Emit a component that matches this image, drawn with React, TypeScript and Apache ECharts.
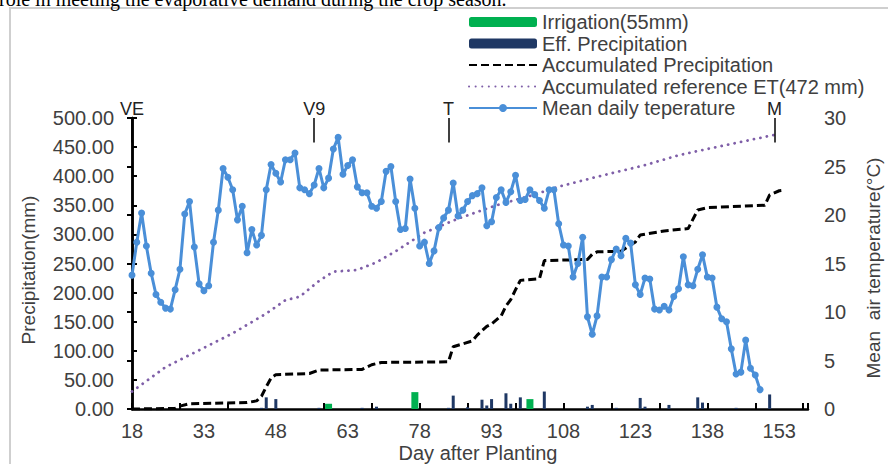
import React, { useEffect, useRef } from 'react';
import * as echarts from 'echarts';

// x values are shifted so the axis starts at 0 (ticks every 15 days from day 18)
const OFF = 18;

const tempFirstDay = 18;
const tempValues = [
  13.8, 17.2, 20.2, 16.8, 14.0, 11.8, 11.0, 10.4, 10.3, 12.3,
  14.4, 20.1, 21.4, 16.7, 12.9, 12.2, 12.7, 17.2, 20.5, 24.8,
  23.9, 22.6, 19.5, 20.9, 16.1, 18.5, 16.9, 17.9, 22.6, 25.2,
  24.3, 23.4, 25.7, 25.7, 26.4, 22.8, 22.6, 22.2, 23.1, 24.8,
  22.8, 23.8, 26.8, 28.0, 24.2, 25.1, 25.7, 22.9, 22.3, 22.3,
  20.9, 20.7, 21.4, 24.5, 25.0, 21.4, 18.5, 18.6, 23.7, 20.7,
  16.8, 17.2, 15.0, 16.3, 18.7, 19.7, 20.5, 23.3, 19.9, 20.5,
  21.4, 22.0, 22.2, 22.8, 18.9, 19.3, 21.8, 22.6, 21.3, 22.4,
  24.1, 21.5, 21.6, 22.6, 22.1, 21.5, 20.7, 22.6, 22.6, 19.1,
  16.9, 16.8, 13.6, 15.0, 17.7, 9.5, 7.7, 9.6, 13.6, 13.6,
  15.4, 16.5, 15.8, 17.6, 17.1, 12.8, 11.8, 13.5, 13.4, 10.3,
  10.2, 10.6, 10.2, 11.6, 12.4, 15.7, 12.8, 12.7, 14.4, 15.9,
  13.6, 13.5, 10.5, 9.3, 9.0, 6.2, 3.6, 3.8, 7.1, 4.2,
  3.5, 2.0,
];

const effPrecipDays = [45, 46, 48, 57, 66, 69, 84, 85, 88, 91, 92, 93, 96, 97, 99, 104, 113, 114, 119, 124, 125, 130, 136, 137, 144, 151];
const effPrecipValues = [2, 20, 17, 2, 2, 4, 2, 23, 3, 16, 6, 17, 27, 9, 20, 30, 4, 7, 2, 19, 4, 7, 20, 11, 2, 25];

const irrigationDays = [59, 77, 101];
const irrigationValues = [9, 29, 17];

const accPrecipDays = [18, 27, 28, 30, 42, 44, 45, 46, 47, 48, 55, 57, 66, 68, 70, 84, 85, 89, 90, 92, 93, 95, 96, 97, 98, 99, 103, 104, 113, 114, 115, 120, 123, 124, 129, 134, 136, 138, 150, 151, 153, 154];
const accPrecipValues = [0, 1, 5, 9, 11, 14, 22, 38, 53, 59, 61, 67, 68, 76, 80, 81, 107, 117, 127, 142, 146, 160, 177, 188, 205, 221, 224, 255, 257, 266, 270, 271, 287, 299, 306, 310, 342, 346, 350, 368, 375, 376];

const etDays = [18, 25, 32, 39, 46, 50, 53, 57, 60, 65, 69, 73, 79, 86, 94, 101, 107, 115, 125, 132, 137, 152];
const etValues = [30, 72, 101, 130, 164, 187, 193, 220, 236, 239, 252, 271, 303, 327, 350, 366, 382, 399, 419, 436, 445, 471];

const stageNames = ['VE', 'V9', 'T', 'M'];
const stageDays = [18, 56, 84, 152];

const seriesNames = [
  'Irrigation(55mm)',
  'Eff. Precipitation',
  'Accumulated Precipitation',
  'Accumulated reference ET(472 mm)',
  'Mean daily teperature',
];

const FONT = '"Liberation Sans", Arial, sans-serif';
const TXT = '#404040';

export default function App() {
  const ref = useRef<HTMLDivElement>(null);
  useEffect(() => {
    document.body.style.margin = '0';
    const chart = echarts.init(ref.current!, null, { renderer: 'svg' });
    const pair = (ds: number[], vs: number[]) => ds.map((d, i) => [d - OFF, vs[i]]);
    const option: any = {
      animation: false,
      backgroundColor: '#ffffff',
      textStyle: { fontFamily: FONT },
      grid: { left: 132, right: 80, top: 118, bottom: 55, containLabel: false },
      legend: {
        data: seriesNames.map((n, i) =>
          i === 2 || i === 3 ? { name: n, itemStyle: { opacity: 0 } } : { name: n }
        ),
        orient: 'vertical',
        left: 463,
        top: 7,
        itemWidth: 68,
        itemHeight: 10,
        itemGap: 1.5,
        textStyle: { fontSize: 20, color: TXT, fontFamily: FONT, lineHeight: 20 },
      },
      xAxis: [
        {
          type: 'value', min: 0, max: 141, interval: 15, position: 'bottom',
          axisLine: { show: true, lineStyle: { color: '#000', width: 2.5 } },
          axisTick: { show: false },
          splitLine: { show: false },
          axisLabel: { formatter: (v: number) => String(v + OFF), showMaxLabel: false, fontSize: 20, lineHeight: 20, color: TXT, margin: 12, fontFamily: FONT },
        },
        {
          type: 'value', min: 0, max: 141, interval: 10, position: 'bottom',
          axisLine: { show: false },
          axisTick: { show: true, inside: true, length: 6, lineStyle: { color: '#000', width: 2 } },
          axisLabel: { show: false },
          splitLine: { show: false },
        },
      ],
      yAxis: [
        {
          type: 'value', min: 0, max: 500, interval: 50,
          axisLine: { show: true, lineStyle: { color: '#000', width: 2.5 } },
          axisTick: { show: true, inside: true, length: 5, lineStyle: { color: '#000', width: 2 } },
          axisLabel: { formatter: (v: number) => v.toFixed(2), fontSize: 20, color: TXT, margin: 18, fontFamily: FONT },
          splitLine: { show: false },
        },
        {
          type: 'value', min: 0, max: 30, interval: 5, position: 'right',
          axisLine: { show: true, lineStyle: { color: '#000', width: 2.5 } },
          axisTick: { show: true, inside: true, length: 5, lineStyle: { color: '#000', width: 2 } },
          axisLabel: { fontSize: 20, color: TXT, margin: 16, fontFamily: FONT },
          splitLine: { show: false },
        },
      ],
      series: [
        {
          name: seriesNames[0], type: 'bar', xAxisIndex: 1, yAxisIndex: 0, barWidth: 7,
          itemStyle: { color: '#00B050' },
          data: pair(irrigationDays, irrigationValues),
        },
        {
          name: seriesNames[1], type: 'bar', xAxisIndex: 0, yAxisIndex: 0, barWidth: 3,
          itemStyle: { color: '#1F3864' },
          data: pair(effPrecipDays, effPrecipValues),
        },
        {
          name: seriesNames[2], type: 'line', xAxisIndex: 0, yAxisIndex: 0, symbol: 'none',
          itemStyle: { color: '#000' },
          lineStyle: { color: '#000', width: 3, type: [8, 4] },
          data: pair(accPrecipDays, accPrecipValues),
          markLine: {
            silent: true,
            symbol: ['none', 'none'],
            lineStyle: { color: '#000', width: 1.5, type: 'solid' },
            label: { show: true, position: 'start', formatter: '{b}', fontSize: 18, color: '#222', distance: 0, fontFamily: FONT },
            data: stageNames.map((n, i) => [
              { name: n, coord: [stageDays[i] - OFF, 500] },
              { coord: [stageDays[i] - OFF, 458] },
            ]),
          },
        },
        {
          name: seriesNames[3], type: 'line', xAxisIndex: 0, yAxisIndex: 0, symbol: 'none',
          itemStyle: { color: '#7F5FA8' },
          lineStyle: { color: '#7F5FA8', width: 2.8, type: [0.1, 6.5], cap: 'round' },
          data: pair(etDays, etValues),
        },
        {
          name: seriesNames[4], type: 'line', xAxisIndex: 0, yAxisIndex: 1,
          symbol: 'circle', symbolSize: 7,
          itemStyle: { color: '#4A8FD8' },
          lineStyle: { color: '#4A8FD8', width: 3 },
          data: tempValues.map((t, i) => [tempFirstDay + i - OFF, t]),
        },
      ],
      graphic: [
        {
          type: 'rect', silent: true, z: -1,
          shape: { x: 10, y: 8, width: 900, height: 500 },
          style: { fill: 'none', stroke: '#cfcfcf', lineWidth: 2 },
        },
        {
          type: 'text', silent: true, x: -1, y: 9,
          style: { text: 'role in meeting the evaporative demand during the crop season.', font: '20px "Liberation Serif", "Times New Roman", serif', fill: '#000', verticalAlign: 'bottom', textAlign: 'left' },
        },
        {
          type: 'text', silent: true, x: 28, y: 270, rotation: Math.PI / 2,
          style: { text: 'Precipitation(mm)', font: '19px ' + FONT, fill: TXT, textAlign: 'center', verticalAlign: 'middle' },
        },
        {
          type: 'text', silent: true, x: 873, y: 268, rotation: Math.PI / 2,
          style: { text: 'Mean  air temperature(°C)', font: '19px ' + FONT, fill: TXT, textAlign: 'center', verticalAlign: 'middle' },
        },
        {
          type: 'text', silent: true, x: 478, y: 453,
          style: { text: 'Day after Planting', font: '20px ' + FONT, fill: TXT, textAlign: 'center', verticalAlign: 'middle' },
        },
      ],
    };
    chart.setOption(option);
    return () => chart.dispose();
  }, []);
  return <div ref={ref} style={{ position: 'fixed', left: 0, top: 0, width: 888, height: 464 }} />;
}
